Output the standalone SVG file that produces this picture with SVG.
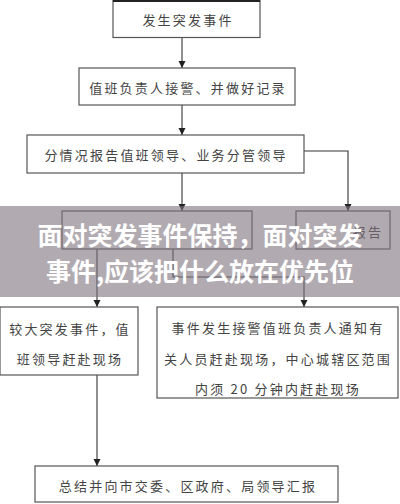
<svg xmlns="http://www.w3.org/2000/svg" width="400" height="504" viewBox="0 0 400 504">
<style>
.box{fill:#fff;stroke:#555;stroke-width:1.2}
.t{font-family:"Noto Sans CJK SC","Noto Sans",sans-serif;font-size:13px;fill:#444;letter-spacing:2.2px;text-anchor:middle;dominant-baseline:central}
.c{fill:none;stroke:#333;stroke-width:1.1}
.ov{font-family:"Noto Sans CJK SC","Noto Sans",sans-serif;font-size:25px;font-weight:bold;fill:#fff;text-anchor:middle;dominant-baseline:central}
</style>
<defs>
<marker id="a" markerWidth="8" markerHeight="8" refX="7" refY="4" orient="auto" markerUnits="userSpaceOnUse">
<path d="M0,0.5 L7,4 L0,7.5 Z" fill="#222"/>
</marker>
</defs>
<rect width="400" height="504" fill="#fff"/>
<g id="connectors">
<path class="c" d="M182,38 V68" marker-end="url(#a)"/>
<path class="c" d="M182,105 V135" marker-end="url(#a)"/>
<path class="c" d="M182,173 V211" marker-end="url(#a)"/>
<path class="c" d="M304,151 H348 V211" marker-end="url(#a)"/>
<path class="c" d="M97,249 V307" marker-end="url(#a)"/>
<path class="c" d="M173,249 V277 H304 V307" marker-end="url(#a)"/>
<path class="c" d="M97,375 V466" marker-end="url(#a)"/>
</g>
<g id="n1"><rect class="box" x="113" y="0.5" width="147" height="37"/><line x1="113" y1="1" x2="260" y2="1" stroke="#222" stroke-width="2"/><text class="t" x="188" y="19">发生突发事件</text></g>
<g id="n2"><rect class="box" x="79" y="68" width="216" height="37"/><text class="t" x="188" y="87">值班负责人接警、并做好记录</text></g>
<g id="n3"><rect class="box" x="27" y="135" width="277" height="38"/><text class="t" x="166" y="154">分情况报告值班领导、业务分管领导</text></g>
<g id="n4"><rect class="box" x="62" y="211" width="190" height="38"/></g>
<g id="n5"><rect class="box" x="296" y="211" width="94" height="38"/><text class="t" x="368" y="231">报告</text></g>
<g id="n6"><rect class="box" x="0" y="307" width="138" height="68"/><text class="t" x="70" y="328">较大突发事件，值</text><text class="t" x="70" y="358">班领导赶赴现场</text></g>
<g id="n7"><rect class="box" x="157" y="307" width="241" height="91"/><text class="t" x="278" y="327">事件发生接警值班负责人通知有</text><text class="t" x="278" y="358">关人员赶赴现场，中心城辖区范围</text><text class="t" x="278" y="388">内须 20 分钟内赶赴现场</text></g>
<g id="n8"><rect class="box" x="35" y="466" width="303" height="36"/><text class="t" x="188" y="485">总结并向市交委、区政府、局领导汇报</text></g>
<g id="overlay">
<rect x="0" y="206" width="400" height="91" fill="#7d737d" opacity="0.6"/>
<text class="ov" x="200" y="234">面对突发事件保持，面对突发</text>
<text class="ov" x="200" y="270">事件,应该把什么放在优先位</text>
</g>
</svg>
